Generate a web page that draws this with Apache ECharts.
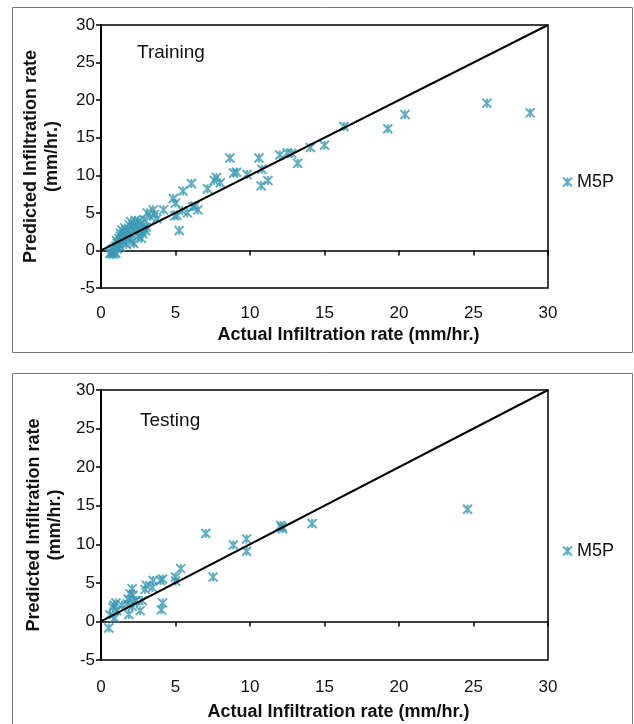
<!DOCTYPE html>
<html>
<head>
<meta charset="utf-8">
<title>M5P infiltration rate</title>
<script src="https://cdn.jsdelivr.net/npm/echarts@6/dist/echarts.min.js"></script>
<style>
  html, body { margin: 0; padding: 0; background: #fff; }
  #main { width: 634px; height: 724px; }
</style>
</head>
<body>
<div id="main"></div>
<script>
// training set: actual vs predicted (mm/hr.)
var trainActual = [
  28.8, 25.9, 20.4, 19.25, 16.3, 15.0, 14.05, 13.2, 12.8, 12.5, 12.0, 11.2, 10.8, 10.75, 10.6,
  9.8, 9.1, 8.9, 8.65, 8.0, 7.75, 7.6, 7.15, 6.07, 6.5, 6.3, 6.15, 5.8, 5.5, 5.45, 5.25, 5.1,
  5.0, 4.85, 4.95, 4.2, 3.75, 3.5, 3.1, 3.05, 3.3, 3.6, 2.9,
  0.6, 0.7, 0.8, 0.9, 1.0, 0.75, 0.9, 1.0, 1.1, 1.05, 1.2, 1.2, 1.3, 1.3, 1.4, 1.4, 1.5, 1.5,
  1.6, 1.6, 1.7, 1.8, 1.9, 1.9, 2.0, 2.0, 2.1, 2.1, 2.2, 2.2, 2.3, 2.4, 2.5, 2.5, 2.6, 2.7,
  2.7, 2.8, 2.9, 3.0, 1.1, 1.3, 1.7, 2.3
];
var trainPredicted = [
  18.3, 19.6, 18.1, 16.2, 16.5, 14.0, 13.7, 11.6, 12.9, 13.0, 12.7, 9.3, 10.8, 8.6, 12.3,
  10.1, 10.4, 10.3, 12.3, 9.0, 9.7, 9.3, 8.2, 8.9, 5.4, 5.9, 5.8, 5.0, 7.9, 5.3, 2.65, 4.7,
  6.3, 6.9, 4.6, 5.4, 4.2, 5.4, 5.0, 3.1, 4.5, 4.8, 4.1,
  -0.4, -0.3, -0.5, -0.2, -0.4, 0.1, 0.3, 0.6, 0.9, 1.3, 1.0, 1.6, 1.9, 2.3, 1.4, 2.7, 2.0, 1.1,
  2.4, 3.0, 1.8, 2.6, 3.4, 1.5, 2.2, 3.8, 1.2, 2.9, 3.5, 0.9, 2.5, 3.2, 1.9, 3.9, 2.7, 3.6,
  1.6, 2.2, 3.0, 2.6, 0.2, 0.5, 0.8, 4.0
];

// testing set
var testActual = [
  24.6, 14.17, 12.14, 12.05, 12.2, 9.77, 9.77, 8.88, 7.03, 7.52, 5.35, 5.0, 5.0, 4.13, 4.0,
  4.13, 4.05, 3.5, 3.45, 3.04, 2.96, 2.63, 2.77, 2.09, 2.14, 1.95, 1.82, 1.76, 1.87, 2.09,
  2.2, 2.36, 1.0, 0.87, 1.06, 0.92, 0.6, 0.52, 0.81, 1.41
];
var testPredicted = [
  14.55, 12.7, 12.25, 12.45, 12.0, 10.7, 9.1, 9.9, 11.4, 5.75, 6.85, 5.75, 5.25, 5.5, 5.3,
  2.4, 1.5, 5.3, 4.4, 4.7, 4.15, 1.4, 2.7, 4.25, 3.4, 3.6, 2.9, 2.3, 0.9, 1.95,
  2.5, 2.7, 2.4, 2.1, 1.4, 0.45, 0.85, -0.85, 1.8, 2.1
];

// 1:1 line
var lineEnds = [0, 30];
var seriesName = 'M5P';
var panelLabels = ['Training', 'Testing'];

var markColor = '#3b99b3';
var fontFam = '"Liberation Sans", Arial, sans-serif';
var starPath = 'path://M0,0L10,10M10,0L0,10M5,0L5,10';

function pairs(xs, ys) {
  return xs.map(function (x, i) { return [x, ys[i]]; });
}

var grids = [
  {left: 101, right: 86, top: 25, height: 263},
  {left: 101, right: 86, top: 390, height: 270}
];

var xAxes = [], yAxes = [], series = [], legends = [], titles = [];

grids.forEach(function (g, i) {
  g.show = true;
  g.borderColor = '#000';
  g.borderWidth = 1.5;
  g.backgroundColor = 'transparent';

  // labelled axis sitting on the box bottom
  xAxes.push({
    type: 'value', gridIndex: i, min: 0, max: 30, interval: 5, position: 'bottom',
    axisLine: {show: false, onZero: false},
    axisTick: {show: false},
    splitLine: {show: false},
    axisLabel: {fontSize: 17, color: '#111', fontFamily: fontFam, margin: i === 0 ? 17 : 19},
    name: 'Actual Infiltration rate (mm/hr.)',
    nameLocation: 'middle',
    nameGap: i === 0 ? 38 : 43,
    nameTextStyle: {fontSize: 18, fontWeight: 'bold', color: '#111', fontFamily: fontFam,
      padding: [0, 0, 0, i === 0 ? 48 : 28]}
  });
  // zero line with the ticks
  xAxes.push({
    type: 'value', gridIndex: i, min: 0, max: 30, interval: 5, position: 'bottom',
    axisLine: {show: true, onZero: true, lineStyle: {color: '#000', width: 1.5}},
    axisTick: {show: true, length: 5, lineStyle: {color: '#000', width: 1.5}},
    splitLine: {show: false},
    axisLabel: {show: false}
  });
  yAxes.push({
    type: 'value', gridIndex: i, min: -5, max: 30, interval: 5,
    axisLine: {show: true, onZero: false, lineStyle: {color: '#000', width: 2}},
    axisTick: {show: true, length: 5, lineStyle: {color: '#000', width: 1.5}},
    splitLine: {show: false},
    axisLabel: {fontSize: 17, color: '#111', fontFamily: fontFam, margin: 6},
    name: 'Predicted Infiltration rate\n(mm/hr.)',
    nameLocation: 'middle',
    nameGap: i === 0 ? 38 : 33,
    nameTextStyle: {fontSize: 18, fontWeight: 'bold', color: '#111', fontFamily: fontFam,
      lineHeight: 21, align: 'center'}
  });

  var xs = i === 0 ? trainActual : testActual;
  var ys = i === 0 ? trainPredicted : testPredicted;
  series.push({
    name: seriesName, type: 'scatter', xAxisIndex: i * 2, yAxisIndex: i,
    symbol: starPath, symbolSize: 9,
    itemStyle: {color: 'transparent', borderColor: markColor, borderWidth: 2},
    data: pairs(xs, ys)
  });
  series.push({
    type: 'line', xAxisIndex: i * 2, yAxisIndex: i, silent: true,
    showSymbol: false, symbol: 'none',
    lineStyle: {color: '#000', width: 2},
    data: [[lineEnds[0], lineEnds[0]], [lineEnds[1], lineEnds[1]]]
  });

  legends.push({
    data: [seriesName], left: 557, top: i === 0 ? 168 : 537,
    orient: 'vertical', itemWidth: 9, itemHeight: 9, itemGap: 6, selectedMode: false,
    icon: starPath,
    itemStyle: {color: 'transparent', borderColor: markColor, borderWidth: 2},
    textStyle: {fontSize: 18, color: '#111', fontFamily: fontFam}
  });
  titles.push({
    text: panelLabels[i], left: i === 0 ? 132 : 135, top: i === 0 ? 38 : 406,
    textStyle: {fontSize: 19, fontWeight: 'normal', color: '#111', fontFamily: fontFam}
  });
});

var chart = echarts.init(document.getElementById('main'));
chart.setOption({
  animation: false,
  backgroundColor: '#fff',
  title: titles,
  legend: legends,
  grid: grids,
  xAxis: xAxes,
  yAxis: yAxes,
  series: series,
  graphic: [
    {type: 'rect', shape: {x: 12.5, y: 7.5, width: 620, height: 345}, silent: true,
      style: {fill: 'none', stroke: '#777', lineWidth: 1}},
    {type: 'rect', shape: {x: 12.5, y: 373.5, width: 620, height: 360}, silent: true,
      style: {fill: 'none', stroke: '#777', lineWidth: 1}}
  ]
});
</script>
</body>
</html>
